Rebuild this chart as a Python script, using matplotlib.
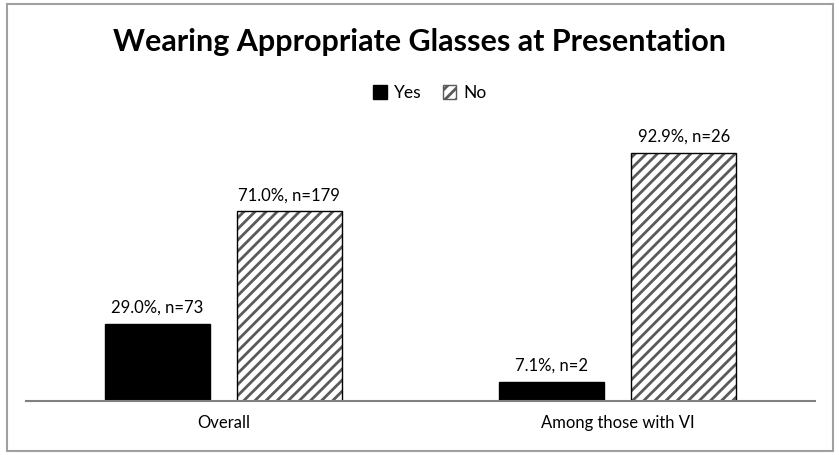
import numpy as np
import matplotlib.pyplot as plt
from matplotlib.patches import Rectangle

categorias = ["Overall", "Among those with VI"]
yes_pct = [29.0, 7.1]
no_pct = [71.0, 92.9]
yes_n = [73, 2]
no_n = [179, 26]

plt.rcParams['font.family'] = ['Lato', 'DejaVu Sans']
plt.rcParams['hatch.linewidth'] = 2.0

fig = plt.figure(figsize=(8.39, 4.55), dpi=100)
ax = fig.add_axes([26/839, 1 - 401/455, 789/839, 267/455])

x = np.arange(len(categorias))
w = 0.266
gap = 0.068
b1 = ax.bar(x - (w + gap)/2, yes_pct, w, color='black', edgecolor='black', label='Yes')
# hatch in grey, outline in black drawn on top
b2 = ax.bar(x + (w + gap)/2, no_pct, w, color='white', edgecolor='#5a5a5a', hatch='///', linewidth=0, label='No')
ax.bar(x + (w + gap)/2, no_pct, w, fill=False, edgecolor='black', linewidth=1.0)

for i in range(len(categorias)):
    ax.text(x[i] - (w + gap)/2, yes_pct[i] + 3, f"{yes_pct[i]:.1f}%, n={yes_n[i]}",
            ha='center', va='bottom', fontsize=12)
    ax.text(x[i] + (w + gap)/2, no_pct[i] + 3, f"{no_pct[i]:.1f}%, n={no_n[i]}",
            ha='center', va='bottom', fontsize=12)

ax.set_xlim(-0.5, 1.5)
ax.set_ylim(0, 100)
ax.set_yticks([])
ax.set_xticks(x)
ax.set_xticklabels(categorias, fontsize=12)
ax.tick_params(axis='x', length=0, pad=10)
for s in ['top', 'right', 'left']:
    ax.spines[s].set_visible(False)
ax.spines['bottom'].set_color('#808080')
ax.spines['bottom'].set_linewidth(1.5)

fig.text(0.5, 1 - 42/455, "Wearing Appropriate Glasses at Presentation",
         ha='center', va='center', fontsize=22, fontweight='bold')
leg = fig.legend(handles=[b1, b2], loc='center', bbox_to_anchor=(430/839, 1 - 93/455),
                 ncol=2, frameon=False, fontsize=12.5, handlelength=0.8, handleheight=0.8,
                 columnspacing=1.2, handletextpad=0.4)
leg.legend_handles[1].set_edgecolor('#5a5a5a')
leg.legend_handles[1].set_linewidth(1.0)

fig.patches.append(Rectangle((7/839, 4/455), 826/839, 447/455, transform=fig.transFigure,
                             fill=False, edgecolor='#a0a0a0', linewidth=1.5))

plt.savefig('out.png', dpi=100)
